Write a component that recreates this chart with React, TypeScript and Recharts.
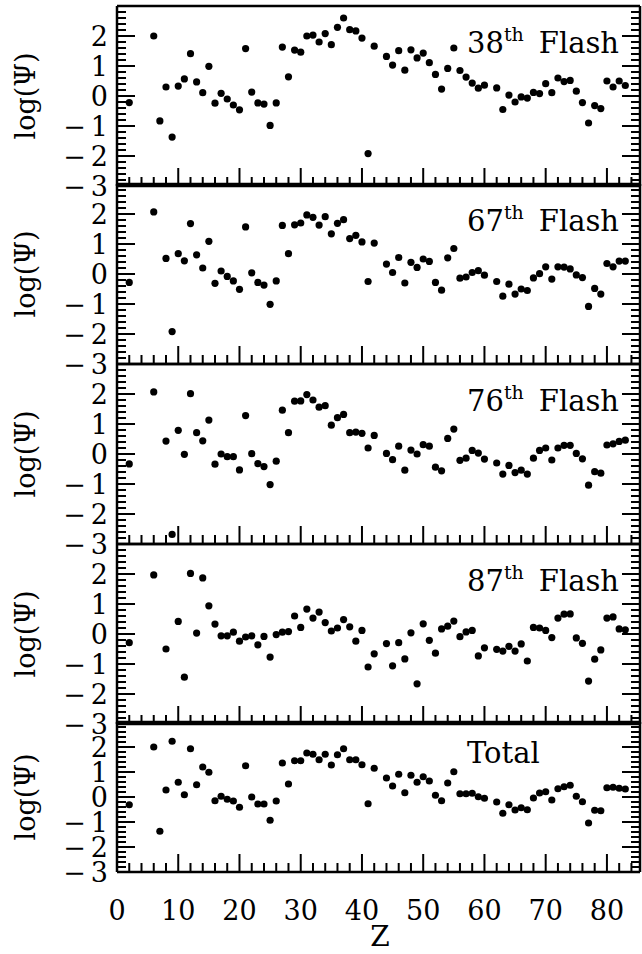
import React from 'react';
import { ScatterChart, Scatter, XAxis, YAxis } from 'recharts';

// atomic number of each point
const Z = [
  2, 6, 7, 8, 9, 10, 11, 12, 13, 14, 15, 16, 17, 18, 19, 20, 21, 22, 23, 24, 25, 26,
  27, 28, 29, 30, 31, 32, 33, 34, 35, 36, 37, 38, 39, 40, 41, 42,
  44, 45, 46, 47, 48, 49, 50, 51, 52, 53, 54, 55, 56, 57, 58, 59, 60,
  62, 63, 64, 65, 66, 67, 68, 69, 70, 71, 72, 73, 74, 75, 76, 77, 78, 79, 80, 81, 82, 83,
];

// log(Psi) per flash, same order as Z (null = not plotted)
const FLASH_38 = [
  -0.22, 2.0, -0.83, 0.3, -1.37, 0.33, 0.57, 1.41, 0.47, 0.11, 0.99, -0.24, 0.09, -0.1, -0.3, -0.46, 1.58, 0.13, -0.23, -0.27, -0.98, -0.23,
  1.63, 0.64, 1.53, 1.46, 2.0, 2.03, 1.8, 2.08, 1.71, 2.29, 2.6, 2.21, 2.17, 1.93, -1.92, 1.66,
  1.32, 1.03, 1.51, 0.86, 1.54, 1.27, 1.43, 1.11, 0.72, 0.23, 0.92, 1.6, 0.85, 0.63, 0.43, 0.26, 0.36,
  0.27, -0.45, 0.03, -0.2, -0.03, -0.07, 0.12, 0.08, 0.41, 0.11, 0.6, 0.48, 0.52, 0.16, -0.22, -0.9, -0.32, -0.42, 0.5, 0.3, 0.5, 0.35,
];
const FLASH_67 = [
  -0.28, 2.07, null, 0.52, -1.92, 0.68, 0.44, 1.68, 0.64, 0.2, 1.09, -0.31, 0.1, -0.08, -0.23, -0.51, 1.57, 0.04, -0.28, -0.37, -1.01, -0.23,
  1.62, 0.68, 1.64, 1.7, 1.97, 1.89, 1.63, 1.91, 1.34, 1.69, 1.81, 1.18, 1.29, 1.07, -0.25, 1.03,
  0.33, 0.05, 0.55, -0.3, 0.39, 0.22, 0.5, 0.42, -0.28, -0.54, 0.54, 0.85, -0.14, -0.1, 0.05, 0.11, -0.04,
  -0.25, -0.74, -0.34, -0.67, -0.5, -0.55, -0.13, 0.01, 0.24, -0.17, 0.24, 0.23, 0.17, -0.03, -0.12, -1.08, -0.48, -0.67, 0.35, 0.24, 0.43, 0.43,
];
const FLASH_76 = [
  -0.33, 2.07, null, 0.43, -2.68, 0.79, -0.01, 2.01, 0.71, 0.44, 1.13, -0.34, 0.0, -0.09, -0.09, -0.53, 1.28, 0.01, -0.32, -0.42, -1.02, -0.24,
  1.46, 0.71, 1.76, 1.77, 1.98, 1.8, 1.56, 1.61, 0.96, 1.21, 1.32, 0.71, 0.73, 0.69, 0.2, 0.62,
  0.02, -0.19, 0.26, -0.54, 0.13, 0.0, 0.31, 0.26, -0.44, -0.56, 0.52, 0.83, -0.21, -0.14, 0.12, 0.03, -0.17,
  -0.3, -0.67, -0.38, -0.62, -0.54, -0.67, -0.14, 0.12, 0.2, -0.2, 0.2, 0.29, 0.29, 0.02, -0.16, -1.04, -0.59, -0.64, 0.3, 0.34, 0.42, 0.46,
];
const FLASH_87 = [
  -0.29, 1.97, null, -0.5, null, 0.42, -1.44, 2.02, 0.03, 1.87, 0.94, 0.33, -0.06, -0.06, 0.06, -0.24, -0.1, -0.06, -0.36, -0.08, -0.77, -0.02,
  0.06, 0.08, 0.6, 0.22, 0.83, 0.53, 0.73, 0.38, 0.1, 0.2, 0.48, 0.24, -0.24, 0.12, -1.1, -0.66,
  -0.32, -1.06, -0.29, -0.83, 0.04, -1.66, 0.34, -0.21, -0.64, 0.17, 0.26, 0.43, -0.09, 0.07, 0.12, -0.73, -0.46,
  -0.51, -0.57, -0.41, -0.57, -0.33, -0.9, 0.22, 0.2, 0.12, -0.12, 0.53, 0.66, 0.67, -0.13, -0.31, -1.57, -0.84, -0.53, 0.53, 0.57, 0.17, 0.14,
];
const TOTAL = [
  -0.31, 2.0, -1.37, 0.28, 2.23, 0.59, 0.09, 1.93, 0.49, 1.2, 0.99, -0.15, 0.03, -0.09, -0.16, -0.41, 1.25, 0.0, -0.28, -0.28, -0.93, -0.16,
  1.36, 0.52, 1.45, 1.45, 1.76, 1.71, 1.49, 1.71, 1.28, 1.69, 1.93, 1.49, 1.49, 1.29, -0.27, 1.15,
  0.76, 0.44, 0.91, 0.17, 0.87, 0.59, 0.81, 0.64, 0.07, -0.15, 0.56, 1.01, 0.13, 0.13, 0.15, 0.01, -0.05,
  -0.2, -0.65, -0.31, -0.52, -0.43, -0.51, -0.04, 0.16, 0.21, -0.12, 0.33, 0.41, 0.47, 0.03, -0.19, -1.04, -0.53, -0.55, 0.37, 0.39, 0.35, 0.32,
];

const X_TICKS = [
  0, 2, 4, 6, 8, 10, 12, 14, 16, 18, 20, 22, 24, 26, 28, 30, 32, 34, 36, 38, 40, 42,
  44, 46, 48, 50, 52, 54, 56, 58, 60, 62, 64, 66, 68, 70, 72, 74, 76, 78, 80, 82, 84,
];
const X_LABELS = [0, 10, 20, 30, 40, 50, 60, 70, 80];
const Y_TICKS = [
  -3, -2.8, -2.6, -2.4, -2.2, -2, -1.8, -1.6, -1.4, -1.2, -1, -0.8, -0.6, -0.4, -0.2, 0,
  0.2, 0.4, 0.6, 0.8, 1, 1.2, 1.4, 1.6, 1.8, 2, 2.2, 2.4, 2.6, 2.8, 3,
];
const Y_LABELS = [-3, -2, -1, 0, 1, 2];

const FONT = '"DejaVu Serif", serif';
const W = 642;
const PLOT_LEFT = 117;
const PLOT_RIGHT = 640;
const PAD_TOP = 4;

const isMajorY = (v: number) => Math.abs(v - Math.round(v)) < 1e-6;

function BottomTick(props: any) {
  const { x, y, payload, showLabels } = props;
  const v = payload.value;
  const major = X_LABELS.includes(v);
  return (
    <g>
      <line x1={x} x2={x} y1={y} y2={y - (major ? 18 : 9)} stroke="#000" strokeWidth={2} />
      {showLabels && major ? (
        <text x={x} y={y + 48} textAnchor="middle" fontFamily={FONT} fontSize={27} fill="#000">
          {v}
        </text>
      ) : null}
    </g>
  );
}

function TopTick(props: any) {
  const { x, y, payload } = props;
  const major = X_LABELS.includes(payload.value);
  return <line x1={x} x2={x} y1={y} y2={y + (major ? 18 : 9)} stroke="#000" strokeWidth={2} />;
}

function LeftTick(props: any) {
  const { x, y, payload } = props;
  const v = payload.value;
  const major = isMajorY(v);
  const n = Math.round(v);
  return (
    <g>
      <line x1={x} x2={x + (major ? 18 : 9)} y1={y} y2={y} stroke="#000" strokeWidth={2} />
      {major && Y_LABELS.includes(n) ? (
        <text x={x - 9} y={y} dy="0.36em" textAnchor="end" fontFamily={FONT} fontSize={27} fill="#000">
          {n < 0 ? (
            <>
              <tspan>{'\u2212'}</tspan>
              <tspan dx={5}>{Math.abs(n)}</tspan>
            </>
          ) : (
            n
          )}
        </text>
      ) : null}
    </g>
  );
}

function RightTick(props: any) {
  const { x, y, payload } = props;
  const major = isMajorY(payload.value);
  return <line x1={x} x2={x - (major ? 18 : 9)} y1={y} y2={y} stroke="#000" strokeWidth={2} />;
}

const Dot = (props: any) => <circle cx={props.cx} cy={props.cy} r={3.6} fill="#000" />;

interface PanelProps {
  values: (number | null)[];
  top: number;
  plotHeight: number;
  nth?: string;
  title: string;
  last?: boolean;
}

function Panel({ values, top, plotHeight, nth, title, last }: PanelProps) {
  const data = Z.map((z, i) => ({ z, v: values[i] })).filter((d) => d.v !== null);
  const bottomH = last ? 80 : 18;
  const titleDy = nth ? 47 : 41;

  const sideLabel = (p: any) => {
    const vb = p.viewBox;
    const cy = vb.y + vb.height / 2;
    return (
      <g>
        <text
          x={0}
          y={0}
          transform={`translate(35, ${cy}) rotate(-90)`}
          textAnchor="middle"
          fontFamily={FONT}
          fontSize={27}
          fill="#000"
        >
          log(Ψ)
        </text>
        <text x={467} y={vb.y + titleDy} fontFamily={FONT} fontSize={29} fill="#000">
          {nth ? (
            <>
              <tspan>{nth}</tspan>
              <tspan fontSize={19} dy={-12}>th</tspan>
              <tspan dx={15} dy={12}>{title}</tspan>
            </>
          ) : (
            title
          )}
        </text>
      </g>
    );
  };

  const zLabel = (p: any) => {
    const vb = p.viewBox;
    return (
      <text x={380} y={vb.y + 74} textAnchor="middle" fontFamily={FONT} fontSize={28} fill="#000">
        Z
      </text>
    );
  };

  return (
    <div style={{ position: 'absolute', left: 0, top: top - PAD_TOP }}>
      <ScatterChart
        width={W}
        height={PAD_TOP + plotHeight + bottomH}
        margin={{ top: PAD_TOP - 2, right: W - PLOT_RIGHT - 2, bottom: 0, left: 0 }}
      >
        <XAxis
          xAxisId="b"
          type="number"
          dataKey="z"
          orientation="bottom"
          domain={[0, 85.4]}
          ticks={X_TICKS}
          interval={0}
          allowDataOverflow
          height={bottomH}
          tickSize={0}
          tickMargin={0}
          tickLine={false}
          axisLine={{ stroke: '#000', strokeWidth: 2.5 }}
          tick={<BottomTick showLabels={!!last} />}
          label={last ? zLabel : undefined}
        />
        <XAxis
          xAxisId="t"
          type="number"
          orientation="top"
          domain={[0, 85.4]}
          ticks={X_TICKS}
          interval={0}
          allowDataOverflow
          height={2}
          tickSize={0}
          tickMargin={0}
          tickLine={false}
          axisLine={{ stroke: '#000', strokeWidth: 2.5 }}
          tick={<TopTick />}
        />
        <YAxis
          yAxisId="l"
          type="number"
          dataKey="v"
          domain={[-3, 3]}
          ticks={Y_TICKS}
          interval={0}
          allowDataOverflow
          width={PLOT_LEFT}
          tickSize={0}
          tickMargin={0}
          tickLine={false}
          axisLine={{ stroke: '#000', strokeWidth: 2.5 }}
          tick={<LeftTick />}
          label={sideLabel}
        />
        <YAxis
          yAxisId="r"
          type="number"
          orientation="right"
          domain={[-3, 3]}
          ticks={Y_TICKS}
          interval={0}
          allowDataOverflow
          width={2}
          tickSize={0}
          tickMargin={0}
          tickLine={false}
          axisLine={{ stroke: '#000', strokeWidth: 2.5 }}
          tick={<RightTick />}
        />
        <Scatter
          data={data}
          xAxisId="b"
          yAxisId="l"
          fill="#000"
          shape={Dot}
          isAnimationActive={false}
        />
      </ScatterChart>
    </div>
  );
}

export default function App() {
  return (
    <div style={{ position: 'absolute', left: 0, top: 0, width: W, height: 954, background: '#fff' }}>
      <Panel values={FLASH_38} top={6} plotHeight={180} nth="38" title="Flash" />
      <Panel values={FLASH_67} top={184} plotHeight={180} nth="67" title="Flash" />
      <Panel values={FLASH_76} top={364} plotHeight={180} nth="76" title="Flash" />
      <Panel values={FLASH_87} top={544} plotHeight={180} nth="87" title="Flash" />
      <Panel values={TOTAL} top={722} plotHeight={150} title="Total" last />
    </div>
  );
}
